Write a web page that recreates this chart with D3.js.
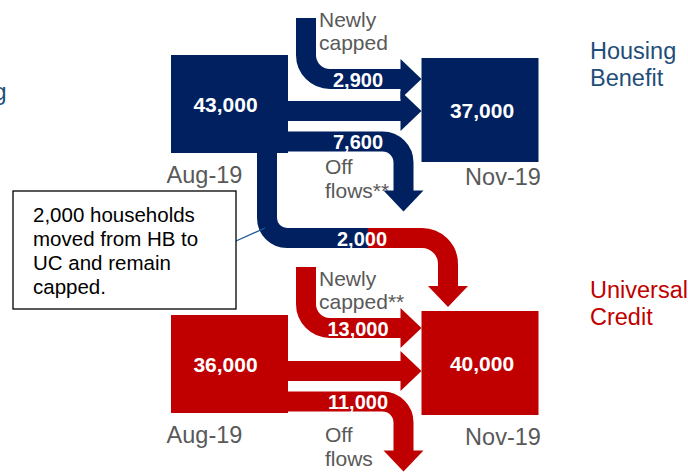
<!DOCTYPE html>
<html>
<head>
<meta charset="utf-8">
<script src="https://cdn.jsdelivr.net/npm/d3@7"></script>
<style>
  body { margin: 0; background: #fff; }
  svg { display: block; font-family: Arial, "Liberation Sans", sans-serif; }
</style>
</head>
<body>
<div id="chart"></div>
<script>
// benefit cap caseload flows, Aug-19 -> Nov-19

var periods = ["Aug-19", "Nov-19"];
var benefits = ["Housing Benefit", "Universal Credit"];
var hbCapped = [43000, 37000];
var ucCapped = [36000, 40000];
var newlyCapped = [2900, 13000];
var offFlows = [7600, 11000];
var hbToUc = 2000;
var newlyText = [["Newly", "capped"], ["Newly", "capped**"]];
var offText = [["Off", "flows**"], ["Off", "flows"]];
var titleText = [["Housing", "Benefit"], ["Universal", "Credit"]];
var noteText = ["2,000 households", "moved from HB to", "UC and remain", "capped."];

var stocks = [hbCapped, ucCapped];

var width = 688, height = 472;
var navy = "#002060", red = "#C00000", grey = "#595959";
var rowColour = [navy, red];
var titleColour = ["#1F4E79", "#C00000"];
var fmt = d3.format(",");

var x = d3.scalePoint().domain(periods).range([229.5, 480]);
var y = d3.scalePoint().domain(benefits).range([104, 364]);

var boxW = 117, boxH = [98, 104];
var shift = [[0, 6], [0, -1]];          // small per-box nudges
var band = 20, headLen = 21, headHalf = 20;

// per row layout (relative to row centre)
var newlyDy = [-25, -36], newlyTextDy = [-52, -42];
var stayDy = 7, offDy = 37.5, offTextDy = [32, 40];
var titleDy = [-45, -66];

var svg = d3.select("#chart").append("svg")
    .attr("width", width)
    .attr("height", height);

var xA = x(periods[0]), xN = x(periods[1]);
var aRight = xA + boxW / 2, nLeft = xN - boxW / 2;
var tipX = nLeft, baseX = tipX - headLen;
var labelX = 358;

function headRight(g, cy, colour) {
  g.append("path")
    .attr("d", "M" + baseX + "," + (cy - headHalf) + "L" + tipX + "," + cy + "L" + baseX + "," + (cy + headHalf) + "Z")
    .attr("fill", colour);
}
function headDown(g, cx, tip, colour) {
  g.append("path")
    .attr("d", "M" + (cx - headHalf) + "," + (tip - headLen) + "L" + cx + "," + tip + "L" + (cx + headHalf) + "," + (tip - headLen) + "Z")
    .attr("fill", colour);
}
function stroke(g, p, colour) {
  g.append("path")
    .attr("d", p.toString())
    .attr("fill", "none")
    .attr("stroke", colour)
    .attr("stroke-width", band);
}
function whiteLabel(g, tx, ty, txt, size) {
  g.append("text")
    .attr("x", tx).attr("y", ty)
    .attr("text-anchor", "middle")
    .attr("fill", "#fff")
    .attr("font-weight", "bold")
    .attr("font-size", size)
    .text(txt);
}
function greyLines(g, tx, ty, lines, lh, size, colour, anchor) {
  var t = g.append("text")
    .attr("x", tx).attr("y", ty)
    .attr("fill", colour)
    .attr("font-size", size)
    .attr("text-anchor", anchor || "start");
  lines.forEach(function (l, k) {
    t.append("tspan").attr("x", tx).attr("y", ty + k * lh).text(l);
  });
}

// cross flow HB -> UC (drawn first, under the boxes)
var cross = svg.append("g");
var crossX = xA + 37.5;
var crossY = (y(benefits[0]) + y(benefits[1])) / 2 + 4;
var splitX = (aRight + nLeft) / 2 + 13;
var crossDx = xN - 32;
var crossTip = y(benefits[1]) - 57;
var p = d3.path();
p.moveTo(crossX, y(benefits[0]));
p.arcTo(crossX, crossY, splitX, crossY, 20);
p.lineTo(splitX + 0.5, crossY);
stroke(cross, p, navy);
p = d3.path();
p.moveTo(splitX, crossY);
p.arcTo(crossDx, crossY, crossDx, crossTip, 26);
p.lineTo(crossDx, crossTip - headLen);
stroke(cross, p, red);
headDown(cross, crossDx, crossTip, red);
whiteLabel(cross, 362, crossY + 7.5, fmt(hbToUc), 20);

benefits.forEach(function (b, i) {
  var g = svg.append("g");
  var cy = y(b), colour = rowColour[i];

  // newly capped
  var ny = cy + newlyDy[i], vx = aRight + 18;
  var q = d3.path();
  q.moveTo(vx, ny - 61);
  q.arcTo(vx, ny, baseX, ny, 24);
  q.lineTo(baseX + 0.5, ny);
  stroke(g, q, colour);
  headRight(g, ny, colour);
  whiteLabel(g, labelX, ny + 7.5, fmt(newlyCapped[i]), 20);
  greyLines(g, vx + 13, ny + newlyTextDy[i], newlyText[i], 23, 21, grey);

  // stayed capped
  var sy = cy + stayDy;
  q = d3.path();
  q.moveTo(xA, sy);
  q.lineTo(baseX + 0.5, sy);
  stroke(g, q, colour);
  headRight(g, sy, colour);

  // off flows
  var oy = cy + offDy, ox = xA + 174, oTip = oy + 70;
  q = d3.path();
  q.moveTo(xA, oy);
  q.arcTo(ox, oy, ox, oTip, 21);
  q.lineTo(ox, oTip - headLen + 0.5);
  stroke(g, q, colour);
  headDown(g, ox, oTip, colour);
  whiteLabel(g, labelX, oy + 7.5, fmt(offFlows[i]), 20);
  greyLines(g, 325, oy + offTextDy[i], offText[i], 24, 21, grey);

  // boxes
  periods.forEach(function (per, j) {
    var bx = x(per), by = cy + shift[i][j];
    g.append("rect")
      .attr("x", bx - boxW / 2)
      .attr("y", by - boxH[j] / 2)
      .attr("width", boxW)
      .attr("height", boxH[j])
      .attr("fill", colour);
    whiteLabel(g, bx + (j === 0 ? -4 : 2), by + 8, fmt(stocks[i][j]), 21);
    g.append("text")
      .attr("x", bx + (j === 0 ? -25 : 23))
      .attr("y", cy + (j === 0 ? 79 : 81))
      .attr("text-anchor", "middle")
      .attr("fill", grey)
      .attr("font-size", 23.5)
      .text(per);
  });

  // row title
  greyLines(g, 590, cy + titleDy[i], titleText[i], 26.5, 23.5, titleColour[i]);
});

// clipped title from neighbouring panel
svg.append("text")
  .attr("x", 6.5).attr("y", 100)
  .attr("text-anchor", "end")
  .attr("fill", "#1F4E79")
  .attr("font-size", 23.5)
  .text("Housing");

// callout
var note = svg.append("g");
note.append("line")
  .attr("x1", 236).attr("y1", 241)
  .attr("x2", crossX - 2).attr("y2", crossY - 10)
  .attr("stroke", "#1F5C99")
  .attr("stroke-width", 1.3);
note.append("rect")
  .attr("x", 13).attr("y", 191)
  .attr("width", 223).attr("height", 118)
  .attr("fill", "#fff")
  .attr("stroke", "#000")
  .attr("stroke-width", 1.3);
greyLines(note, 33, 222, noteText, 24, 20.5, "#000");
</script>
</body>
</html>
